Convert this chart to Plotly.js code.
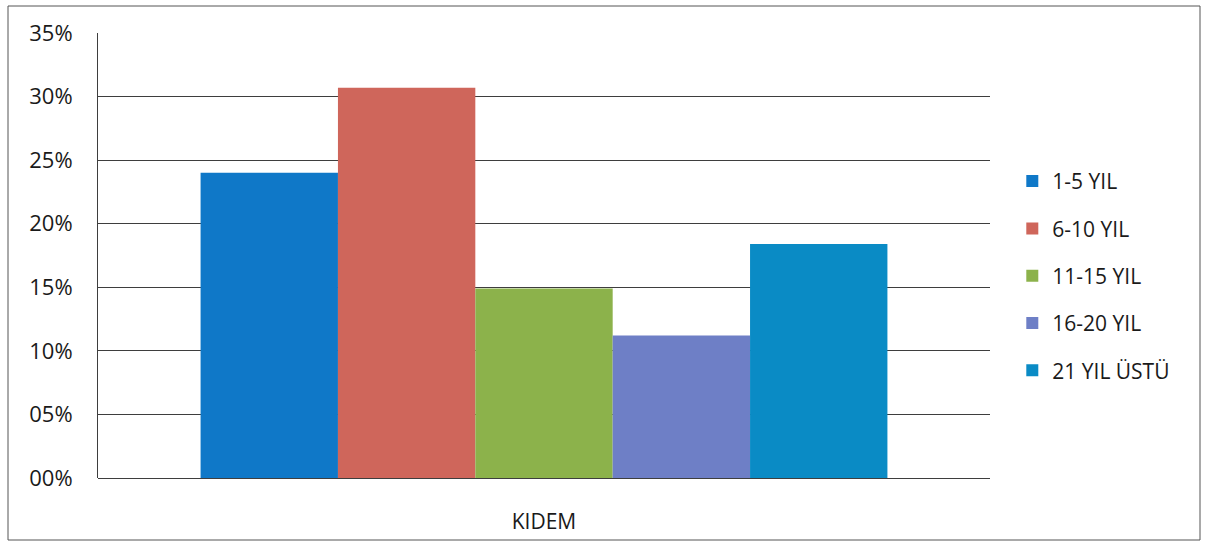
<!DOCTYPE html>
<html>
<head>
<meta charset="utf-8">
<script src="https://cdn.plot.ly/plotly-3.0.1.min.js"></script>
<style>
  html, body { margin: 0; padding: 0; background: #ffffff; }
  #chart { width: 1212px; height: 544px; }
</style>
</head>
<body>
<div id="chart"></div>
<script>
// ---- data ----
const category = ["KIDEM"];
const seriesNames = ["1-5 YIL", "6-10 YIL", "11-15 YIL", "16-20 YIL", "21 YIL ÜSTÜ"];
const seriesValues = [24.0, 30.7, 14.9, 11.2, 18.4];
const seriesColors = ["#0f78c8", "#cf665b", "#8cb24b", "#6e7fc6", "#0a8bc5"];
const yTickVals = [0, 5, 10, 15, 20, 25, 30, 35];
const yTickText = ["00%", "05%", "10%", "15%", "20%", "25%", "30%", "35%"];

const FONT = "Open Sans, Liberation Sans, sans-serif";
const TXT = "#1a1a1a";

const traces = seriesNames.map((name, i) => ({
  type: "bar",
  name: name,
  x: category,
  y: [seriesValues[i]],
  marker: { color: seriesColors[i], line: { width: 0 } },
  legendgroup: "g" + i,
  hoverinfo: "skip"
}));

const layout = {
  width: 1212,
  height: 544,
  margin: { l: 98, r: 222, t: 33, b: 66, pad: 0 },
  paper_bgcolor: "#ffffff",
  plot_bgcolor: "#ffffff",
  barmode: "group",
  bargap: 0.23,
  bargroupgap: 0,
  font: { family: FONT, size: 21, color: TXT },
  showlegend: true,
  legend: {
    x: 1.025, xanchor: "left",
    y: 0.454, yanchor: "middle",
    font: { family: FONT, size: 21, color: TXT },
    tracegroupgap: 17,
    itemwidth: 30,
    bgcolor: "rgba(0,0,0,0)"
  },
  xaxis: {
    type: "category",
    showgrid: false,
    showline: false,
    zeroline: false,
    ticks: "",
    tickfont: { family: FONT, size: 21, color: TXT },
    ticklabelstandoff: 29
  },
  yaxis: {
    range: [0, 35],
    tickvals: yTickVals,
    ticktext: yTickText,
    showgrid: true,
    gridcolor: "#3e3e3e",
    gridwidth: 1,
    zeroline: true,
    zerolinecolor: "#3e3e3e",
    zerolinewidth: 1,
    showline: true,
    linecolor: "#3e3e3e",
    linewidth: 1,
    ticks: "",
    ticklabelstandoff: 20,
    tickfont: { family: FONT, size: 22, color: TXT }
  },
  shapes: [{
    type: "rect", xref: "paper", yref: "paper",
    x0: (8 - 98) / 892, x1: (1200 - 98) / 892,
    y0: (478 - 540) / 445, y1: (478 - 6) / 445,
    line: { color: "#555555", width: 1 },
    fillcolor: "rgba(0,0,0,0)",
    layer: "below"
  }]
};

Plotly.newPlot("chart", traces, layout, { displayModeBar: false, staticPlot: true });
</script>
</body>
</html>
